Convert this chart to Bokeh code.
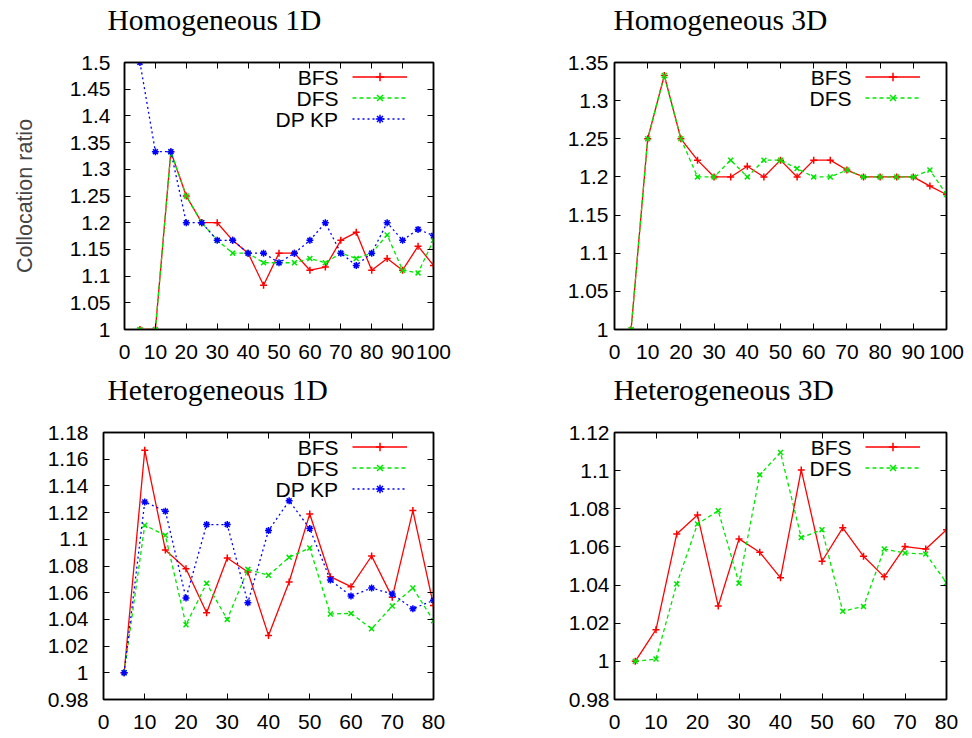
from bokeh.plotting import figure
from bokeh.models import (Range1d, FixedTicker, LinearAxis, Legend, LegendItem,
                          Label, Title, CustomJSTickFormatter)
from bokeh.layouts import column, row
from bokeh.embed import file_html
from bokeh.resources import INLINE

# ---------------- data ----------------
hom_x = [5, 10, 15, 20, 25, 30, 35, 40, 45, 50, 55, 60, 65, 70, 75, 80, 85, 90, 95, 100]
het_x = [5, 10, 15, 20, 25, 30, 35, 40, 45, 50, 55, 60, 65, 70, 75, 80]

hom1d_bfs = [1.0, 1.0, 1.333, 1.25, 1.2, 1.2, 1.167, 1.143, 1.083, 1.143, 1.143, 1.111,
             1.117, 1.167, 1.182, 1.111, 1.133, 1.111, 1.156, 1.12]
hom1d_dfs = [1.0, 1.0, 1.333, 1.25, 1.2, 1.167, 1.143, 1.143, 1.125, 1.125, 1.125, 1.133,
             1.125, 1.143, 1.133, 1.143, 1.177, 1.111, 1.106, 1.167]
hom1d_dpkp = [1.5, 1.333, 1.333, 1.2, 1.2, 1.167, 1.167, 1.143, 1.143, 1.125, 1.143, 1.167,
              1.2, 1.143, 1.12, 1.143, 1.2, 1.167, 1.1875, 1.176]

hom3d_bfs = [1.0, 1.25, 1.333, 1.25, 1.222, 1.2, 1.2, 1.214, 1.2, 1.222, 1.2, 1.222,
             1.222, 1.209, 1.2, 1.2, 1.2, 1.2, 1.188, 1.177]
hom3d_dfs = [1.0, 1.25, 1.333, 1.25, 1.2, 1.2, 1.222, 1.2, 1.222, 1.222, 1.211, 1.2,
             1.2, 1.209, 1.2, 1.2, 1.2, 1.2, 1.209, 1.177]

het1d_bfs = [1.0, 1.1667, 1.092, 1.078, 1.045, 1.086, 1.0755, 1.028, 1.068, 1.119,
             1.072, 1.0645, 1.0875, 1.0565, 1.1215, 1.0505]
het1d_dfs = [1.0, 1.1105, 1.103, 1.036, 1.067, 1.040, 1.0775, 1.073, 1.0865, 1.0935,
             1.044, 1.0445, 1.033, 1.050, 1.0635, 1.039]
het1d_dpkp = [1.0, 1.128, 1.121, 1.056, 1.111, 1.111, 1.0525, 1.1065, 1.1288, 1.108,
              1.0695, 1.0575, 1.0635, 1.059, 1.048, 1.0543]

het3d_bfs = [1.0, 1.0166, 1.0668, 1.0767, 1.029, 1.0642, 1.0572, 1.0438, 1.1004, 1.0525,
             1.07, 1.0551, 1.0443, 1.0602, 1.0589, 1.069]
het3d_dfs = [1.0, 1.0012, 1.0406, 1.072, 1.079, 1.041, 1.0978, 1.1095, 1.0649, 1.069,
             1.0263, 1.0288, 1.0589, 1.0568, 1.0563, 1.0412]

hom_xticks = [0, 10, 20, 30, 40, 50, 60, 70, 80, 90, 100]
het_xticks = [0, 10, 20, 30, 40, 50, 60, 70, 80]
hom1d_yticks = [1.0, 1.05, 1.1, 1.15, 1.2, 1.25, 1.3, 1.35, 1.4, 1.45, 1.5]
hom3d_yticks = [1.0, 1.05, 1.1, 1.15, 1.2, 1.25, 1.3, 1.35]
het1d_yticks = [0.98, 1.0, 1.02, 1.04, 1.06, 1.08, 1.1, 1.12, 1.14, 1.16, 1.18]
het3d_yticks = [0.98, 1.0, 1.02, 1.04, 1.06, 1.08, 1.1, 1.12]

titles = ["Homogeneous 1D", "Homogeneous 3D", "Heterogeneous 1D", "Heterogeneous 3D"]
y_label = "Collocation ratio"

# ---------------- style ----------------
SANS = "Liberation Sans"
SERIF = "Liberation Serif"
STYLE = {
    "BFS": dict(color="#ff0000", dash="solid", marker="cross", size=7),
    "DFS": dict(color="#00e600", dash="4 3", marker="x", size=7),
    "DP KP": dict(color="#0000ff", dash="2 3", marker="asterisk", size=7),
}

fmt = CustomJSTickFormatter(code="return String(parseFloat(tick.toFixed(4)));")
blank = CustomJSTickFormatter(code="return '';")


def style_axis(ax, ticks, labels, standoff):
    ax.ticker = FixedTicker(ticks=ticks)
    ax.formatter = fmt if labels else blank
    ax.major_tick_in = 6
    ax.major_tick_out = 0
    ax.minor_tick_in = 0
    ax.minor_tick_out = 0
    ax.axis_line_color = "black"
    ax.axis_line_width = 1.5
    ax.major_tick_line_color = "black"
    ax.major_tick_line_width = 1
    ax.major_label_text_font = SANS
    ax.major_label_text_font_size = "21px"
    ax.major_label_text_color = "black"
    ax.major_label_standoff = standoff


def panel(title, xs, series, x_end, y_rng, xticks, yticks, borders, fw, fh,
          title_offset, ylab_standoff, ylabel=None):
    left, right, top, bottom = borders
    p = figure(frame_width=fw, frame_height=fh,
               x_range=Range1d(0, x_end), y_range=Range1d(*y_rng),
               output_backend="svg", toolbar_location=None,
               min_border_left=left, min_border_right=right,
               min_border_top=top, min_border_bottom=bottom,
               background_fill_color="white", border_fill_color="white")
    p.xgrid.visible = False
    p.ygrid.visible = False
    p.outline_line_color = "black"
    p.outline_line_width = 1.5

    style_axis(p.xaxis[0], xticks, True, 15)
    style_axis(p.yaxis[0], yticks, True, ylab_standoff)
    ax_r = LinearAxis()
    style_axis(ax_r, yticks, False, 0)
    p.add_layout(ax_r, "right")
    ax_t = LinearAxis()
    style_axis(ax_t, xticks, False, 0)
    p.add_layout(ax_t, "above")

    # invisible spacer between the top of the frame and the title
    spacer = LinearAxis()
    style_axis(spacer, xticks, False, 0)
    spacer.major_tick_in = 0
    spacer.major_tick_out = 27
    spacer.major_tick_line_alpha = 0
    spacer.axis_line_alpha = 0
    p.add_layout(spacer, "above")

    # panel title (added last, so it sits outermost)
    p.add_layout(Title(text=title, text_font=SERIF, text_font_size="29.5px",
                       text_font_style="normal", text_color="black",
                       align="left", offset=title_offset, standoff=0), "above")

    if ylabel:
        p.yaxis[0].axis_label = ylabel
        p.yaxis[0].axis_label_text_font = SANS
        p.yaxis[0].axis_label_text_font_size = "21.5px"
        p.yaxis[0].axis_label_text_font_style = "normal"
        p.yaxis[0].axis_label_standoff = 30

    items = []
    for i, (name, ys) in enumerate(series):
        st = STYLE[name]
        lr = p.line(xs, ys, line_color=st["color"], line_width=1.3, line_dash=st["dash"])
        sr = p.scatter(xs, ys, marker=st["marker"], size=st["size"],
                       line_color=st["color"], fill_color=st["color"], line_width=1.5)
        items.append(LegendItem(label="", renderers=[lr, sr]))
        p.add_layout(Label(x=fw - 95, y=fh - 14.7 - 21.3 * i, x_units="screen", y_units="screen",
                           text=name, text_align="right", text_baseline="middle",
                           text_font=SANS, text_font_size="21px", text_color="black"))
    leg = Legend(items=items, location="top_right", margin=4, padding=0, spacing=0,
                 glyph_width=55, glyph_height=21, label_height=21, label_width=22,
                 label_standoff=0, border_line_color=None, background_fill_alpha=0)
    p.add_layout(leg)
    return p


p1 = panel(titles[0], hom_x, [("BFS", hom1d_bfs), ("DFS", hom1d_dfs), ("DP KP", hom1d_dpkp)],
           100, (1.0, 1.5), hom_xticks, hom1d_yticks, (124, 53, 62, 41), 309, 267, -17, 14, y_label)
p2 = panel(titles[1], hom_x, [("BFS", hom3d_bfs), ("DFS", hom3d_dfs)],
           100, (1.0, 1.35), hom_xticks, hom3d_yticks, (128, 26, 62, 41), 332, 267, -1, 6)
p3 = panel(titles[2], het_x, [("BFS", het1d_bfs), ("DFS", het1d_dfs), ("DP KP", het1d_dpkp)],
           80, (0.98, 1.18), het_xticks, het1d_yticks, (103, 53, 62, 39), 330, 267, 4, 15)
p4 = panel(titles[3], het_x, [("BFS", het3d_bfs), ("DFS", het3d_dfs)],
           80, (0.98, 1.12), het_xticks, het3d_yticks, (128, 26, 62, 39), 332, 267, -1, 5)

layout = column(row(p1, p2), row(p3, p4))
open("out.html", "w").write(file_html(layout, INLINE))
